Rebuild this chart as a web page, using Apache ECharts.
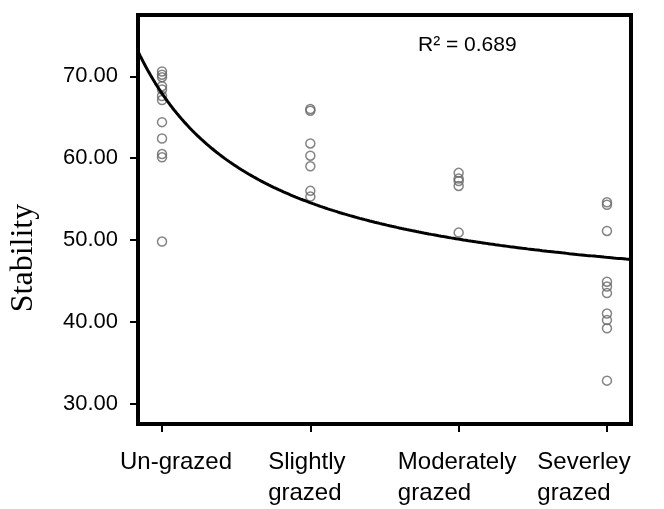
<!DOCTYPE html>
<html>
<head>
<meta charset="utf-8">
<script src="https://cdn.jsdelivr.net/npm/echarts@6/dist/echarts.min.js"></script>
<style>
html,body{margin:0;padding:0;background:#fff;}
#chart{width:664px;height:509px;}
</style>
</head>
<body>
<div id="chart"></div>
<script>
// ---- data ----
const categories = ['Un-grazed', 'Slightly\ngrazed', 'Moderately\ngrazed', 'Severley\ngrazed'];
const yTicks = [30, 40, 50, 60, 70];
const unGrazed = [70.6, 70.2, 69.9, 68.8, 68.4, 67.6, 67.1, 64.4, 62.4, 60.5, 60.1, 49.8];
const slightlyGrazed = [66.0, 65.8, 61.8, 60.3, 59.0, 56.0, 55.3];
const moderatelyGrazed = [58.2, 57.5, 57.2, 56.6, 50.9];
const severelyGrazed = [54.6, 54.3, 51.1, 44.9, 44.3, 43.5, 41.0, 40.2, 39.2, 32.8];
// inverse fit y = a + b / x, coefficients
const fitA = 41.2;
const fitB = 26.7;
const rSquaredText = 'R\u00B2 = 0.689';

const groups = [unGrazed, slightlyGrazed, moderatelyGrazed, severelyGrazed];
const scatterData = [];
groups.forEach(function (g, i) {
  g.forEach(function (v) { scatterData.push([i + 1, v]); });
});
const xMin = 0.838, xMax = 4.162;
const curveData = [];
for (let k = 0; k <= 200; k++) {
  const x = xMin + (xMax - xMin) * k / 200;
  curveData.push([x, fitA + fitB / x]);
}

const sans = '"Liberation Sans", Arial, sans-serif';
function lab(pad) {
  return { padding: pad, align: 'left', fontSize: 24, fontFamily: sans, color: '#000', lineHeight: 31 };
}
const labelRich = {
  p0: lab([0, 0, 0, 28]),
  p1: lab([0, 7, 0, 0]),
  p2: lab([0, 3, 0, 0]),
  p3: lab([0, 46, 0, 0]),
  q: lab([0, 0, 0, 0])
};

const chart = echarts.init(document.getElementById('chart'), null, { renderer: 'canvas' });
chart.setOption({
  animation: false,
  backgroundColor: '#fff',
  grid: {
    left: 138, right: 33, top: 15, bottom: 85,
    show: true, borderColor: '#000', borderWidth: 4,
    containLabel: false, outerBoundsMode: 'none'
  },
  xAxis: {
    type: 'value', min: xMin, max: xMax,
    axisLine: { show: false },
    splitLine: { show: false },
    axisTick: { show: true, customValues: [1, 2, 3, 4], length: 8, lineStyle: { color: '#000', width: 2 } },
    axisLabel: {
      customValues: [1, 2, 3, 4],
      margin: 23,
      formatter: function (v) {
        const i = Math.round(v) - 1;
        const parts = categories[i].split('\n');
        return '{p' + i + '|' + parts[0] + '}' + (parts[1] ? '\n{q|' + parts[1] + '}' : '');
      },
      rich: labelRich
    }
  },
  yAxis: {
    type: 'value', min: 27.5, max: 77.5,
    axisLine: { show: false },
    splitLine: { show: false },
    axisTick: { show: true, customValues: yTicks, length: 8, lineStyle: { color: '#000', width: 2 } },
    axisLabel: {
      customValues: yTicks,
      margin: 20,
      fontSize: 22, fontFamily: sans, color: '#000',
      formatter: function (v) { return v.toFixed(2); }
    }
  },
  graphic: [
    {
      type: 'text', x: 24, y: 258, rotation: Math.PI / 2,
      style: { text: 'Stability', font: '32px "Liberation Serif", "Times New Roman", serif', fill: '#000', align: 'center', verticalAlign: 'middle' }
    },
    {
      type: 'text', left: 418, top: 35,
      style: { text: rSquaredText, font: '21px "Liberation Sans", Arial, sans-serif', fill: '#000' }
    }
  ],
  series: [
    {
      type: 'scatter', data: scatterData, symbol: 'circle', symbolSize: 9,
      itemStyle: { color: 'rgba(255,255,255,0)', borderColor: '#666', borderWidth: 1.5 },
      z: 2
    },
    {
      type: 'line', data: curveData, showSymbol: false, smooth: false, clip: true,
      lineStyle: { color: '#000', width: 3 }, z: 3
    }
  ]
});
</script>
</body>
</html>
